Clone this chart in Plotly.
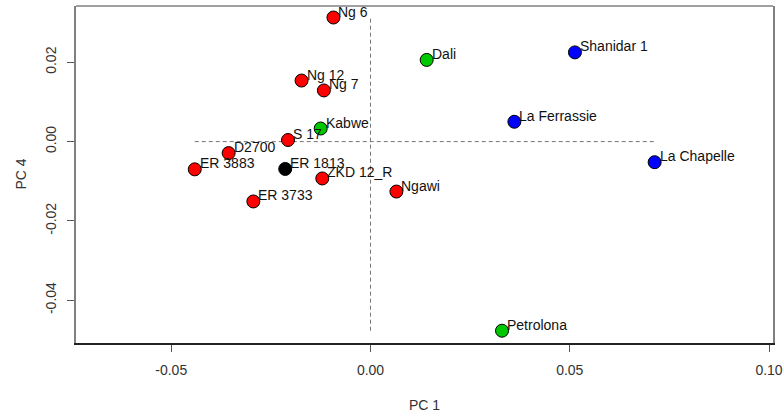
import plotly.graph_objects as go

# PCA scores (PC 1 vs PC 4) for each specimen
labels = ["Ng 6", "Dali", "Ng 12", "Ng 7", "Kabwe", "S 17", "D2700", "ER 3883",
          "ER 1813", "ZKD 12_R", "Ngawi", "ER 3733", "Petrolona",
          "Shanidar 1", "La Ferrassie", "La Chapelle"]
pc1 = [-0.0093, 0.0141, -0.0173, -0.0117, -0.0125, -0.0207, -0.0356, -0.0441,
       -0.0214, -0.0121, 0.0065, -0.0294, 0.0330,
       0.0513, 0.0361, 0.0713]
pc4 = [0.0313, 0.0206, 0.0154, 0.0129, 0.0033, 0.0004, -0.0029, -0.0070,
       -0.0069, -0.0093, -0.0126, -0.0151, -0.0477,
       0.0225, 0.0050, -0.0052]
groups = ["red", "green", "red", "red", "green", "red", "red", "red",
          "black", "red", "red", "red", "green",
          "blue", "blue", "blue"]

group_colors = {"red": "#FF0000", "green": "#00C800", "blue": "#0000FF", "black": "#000000"}

x_ticks = [-0.05, 0.00, 0.05, 0.10]
y_ticks = [-0.04, -0.02, 0.00, 0.02]

FONT = "Liberation Sans, Arial, sans-serif"

fig = go.Figure()

# reference lines through the origin spanning the data range
fig.add_shape(type="line", x0=min(pc1), x1=max(pc1), y0=0, y1=0,
              line=dict(color="#777777", width=1, dash="4px,3px"), layer="below")
fig.add_shape(type="line", x0=0, x1=0, y0=min(pc4), y1=max(pc4),
              line=dict(color="#777777", width=1, dash="4px,3px"), layer="below")

fig.add_trace(go.Scatter(
    x=pc1, y=pc4, mode="markers",
    marker=dict(size=13, color=[group_colors[g] for g in groups],
                line=dict(color="#000000", width=1)),
    hoverinfo="text", text=labels, showlegend=False,
))

for name, xv, yv in zip(labels, pc1, pc4):
    fig.add_annotation(x=xv, y=yv, text=name, showarrow=False,
                       xanchor="left", yanchor="middle", xshift=3, yshift=6,
                       font=dict(family=FONT, size=14, color="#111111"))

# axis titles
fig.add_annotation(xref="paper", yref="paper", x=0.5, y=0, yshift=-62,
                   text="PC 1", showarrow=False, xanchor="center", yanchor="middle",
                   font=dict(family=FONT, size=14, color="#333333"))
fig.add_annotation(xref="paper", yref="paper", x=0, y=0.5, xshift=-56,
                   text="PC 4", showarrow=False, textangle=-90,
                   xanchor="center", yanchor="middle",
                   font=dict(family=FONT, size=14, color="#333333"))

# top border of the plotting box
fig.add_shape(type="line", xref="paper", yref="paper", x0=0, x1=1, y0=1, y1=1,
              line=dict(color="#808080", width=1.5))

fig.update_xaxes(range=[-0.0739, 0.1010], tickvals=x_ticks,
                 ticktext=[f"{v:.2f}" for v in x_ticks],
                 showgrid=False, zeroline=False, automargin=False,
                 showline=True, linecolor="#222222", linewidth=1.5, mirror=False,
                 ticks="outside", ticklen=7, tickcolor="#555555", tickwidth=1,
                 ticklabelstandoff=6,
                 tickfont=dict(family=FONT, size=14, color="#333333"))
fig.update_yaxes(range=[-0.0508, 0.0342], tickvals=y_ticks,
                 ticktext=[f"{v:.2f}" for v in y_ticks],
                 showgrid=False, zeroline=False, tickangle=-90, automargin=False,
                 showline=True, linecolor="#808080", linewidth=1.5, mirror=True,
                 ticks="outside", ticklen=7, tickcolor="#555555", tickwidth=1,
                 ticklabelstandoff=6,
                 tickfont=dict(family=FONT, size=14, color="#333333"))

fig.update_layout(
    width=783, height=415,
    margin=dict(l=76, r=10, t=6, b=72),
    paper_bgcolor="white", plot_bgcolor="white",
)

fig.write_html("out.html")
